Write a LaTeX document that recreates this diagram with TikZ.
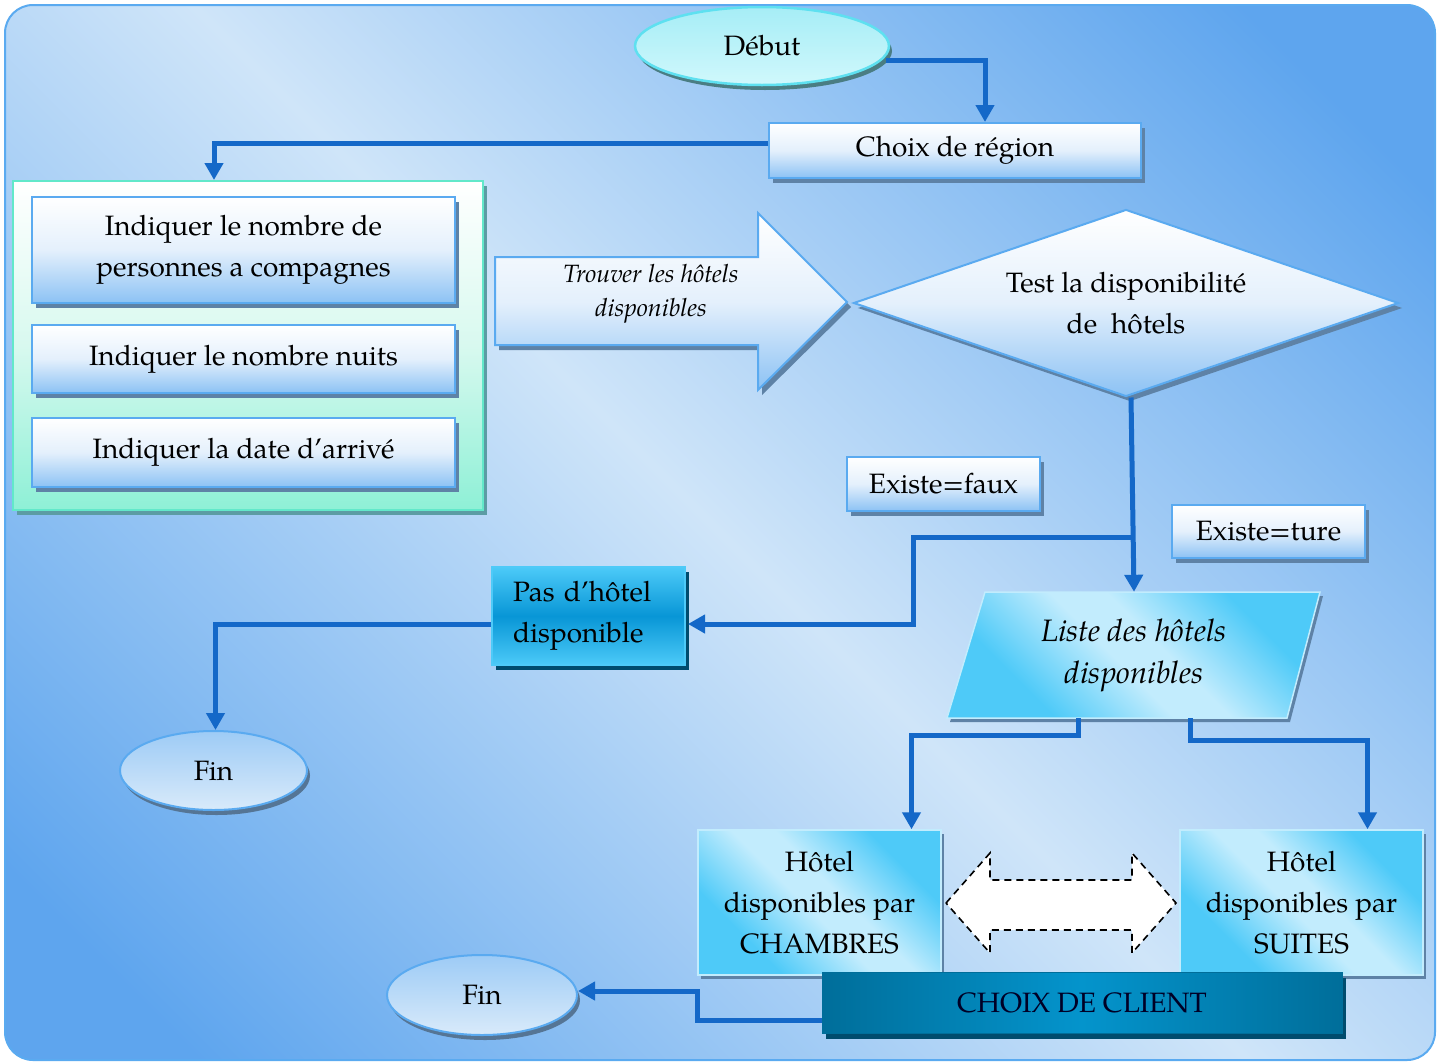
\documentclass[tikz,border=0pt]{standalone}
\usepackage{fontspec}
\setmainfont{TeX Gyre Pagella}
\usetikzlibrary{shapes.geometric,arrows.meta,calc,shadows}

% palette
\definecolor{bgL}{HTML}{CFE5F9}
\definecolor{bgD}{HTML}{5EA5EE}
\definecolor{edgeblue}{HTML}{5AAAF0}
\definecolor{boxlow}{HTML}{8CC2F4}
\definecolor{boxmid}{HTML}{E4F0FC}
\definecolor{shadowblue}{HTML}{5E82A6}
\definecolor{linkblue}{HTML}{1468C8}
\definecolor{cyD}{HTML}{4ECAF8}
\definecolor{cyL}{HTML}{C2ECFD}
\definecolor{mintedge}{HTML}{62E8CA}
\definecolor{mintlow}{HTML}{8EF0D6}
\definecolor{mintmid}{HTML}{D8F9EF}
\definecolor{mintshadow}{HTML}{5C9CA4}
\definecolor{deepcyan}{HTML}{0896D6}
\definecolor{brightcyan}{HTML}{4CCAF8}
\definecolor{deepshadow}{HTML}{004C6E}
\definecolor{tealdark}{HTML}{006E9A}
\definecolor{teallight}{HTML}{0494CC}
\definecolor{startedge}{HTML}{5EE0F0}
\definecolor{starttop}{HTML}{A6EDF6}
\definecolor{startlow}{HTML}{D0F8FC}

\pgfdeclarehorizontalshading{bgshade}{100bp}{color(0bp)=(bgD); color(20bp)=(bgD); color(50bp)=(bgL); color(80bp)=(bgD); color(100bp)=(bgD)}
\pgfdeclarehorizontalshading{cyshade}{100bp}{color(0bp)=(cyD); color(30bp)=(cyD); color(47bp)=(cyL); color(55bp)=(cyL); color(72bp)=(cyD); color(100bp)=(cyD)}

\newcommand\bigtxt{\fontsize{28}{41}\selectfont}
\newcommand\smalltxt{\fontsize{25}{34}\selectfont}
\newcommand\listtxt{\fontsize{31}{42}\selectfont}

\tikzset{
  link/.style={draw=linkblue, line width=5pt, -{Triangle[width=18pt,length=17pt]}},
  bluebox/.style={rectangle, draw=edgeblue, line width=2pt, top color=white,
    bottom color=boxlow, middle color=boxmid, inner sep=0pt, align=center,
    font=\bigtxt, general shadow={fill=shadowblue, shadow xshift=4pt, shadow yshift=-5pt}},
  cyanbox/.style={rectangle, draw=cyL, line width=1.5pt, shading=cyshade, shading angle=45,
    inner sep=0pt, align=center, font=\bigtxt,
    general shadow={fill=shadowblue, shadow xshift=3pt, shadow yshift=-4pt}},
  finoval/.style={ellipse, draw=edgeblue, line width=2pt, top color=boxlow!85!white,
    bottom color=bgL!80!white, inner sep=0pt, font=\bigtxt,
    general shadow={fill=shadowblue!90!black, shadow xshift=3pt, shadow yshift=-5pt}},
}

\begin{document}
\begin{tikzpicture}[x=1pt,y=-1pt]
\useasboundingbox (0,0) rectangle (1442,1063);
\fill[white] (0,0) rectangle (1442,1063);

% backdrop panel
\path[shading=bgshade, shading angle=45, rounded corners=28pt] (5,5) rectangle (1435,1060);
\draw[edgeblue, line width=2pt, rounded corners=28pt] (5,5) rectangle (1435,1060);

% start
\node[ellipse, minimum width=254pt, minimum height=78pt, inner sep=0pt, draw=startedge,
      line width=2.5pt, top color=starttop, bottom color=startlow, font=\bigtxt,
      general shadow={fill=mintshadow!80!black, shadow xshift=3pt, shadow yshift=-5pt}]
      (debut) at (762,46) {Début};

\node[bluebox, minimum width=372pt, minimum height=55pt] (region) at (955,150.5) {Choix de région};

% input group
\node[rectangle, draw=mintedge, line width=2pt, top color=white, bottom color=mintlow,
      middle color=mintmid, minimum width=470pt, minimum height=329pt,
      general shadow={fill=mintshadow, shadow xshift=4pt, shadow yshift=-5pt}]
      (group) at (248,345.5) {};
\node[bluebox, minimum width=423pt, minimum height=106pt] (pers) at (243.5,250)
      {Indiquer le nombre de\\personnes a compagnes};
\node[bluebox, minimum width=423pt, minimum height=68pt] (nuits) at (243.5,359)
      {Indiquer le nombre nuits};
\node[bluebox, minimum width=423pt, minimum height=69pt] (datearr) at (243.5,452.5)
      {Indiquer la date d’arrivé};

% search arrow
\path[draw=edgeblue, line width=2pt, top color=white, bottom color=boxlow, middle color=boxmid,
      general shadow={fill=shadowblue, shadow xshift=4pt, shadow yshift=-5pt}]
  (495,257) -- (758,257) -- (758,213) -- (847,302) -- (758,390) -- (758,345) -- (495,345) -- cycle;
\node[font=\smalltxt\itshape, align=center] (trouver) at (651,294) {Trouver les hôtels\\disponibles};

% availability test
\node[diamond, aspect=2.914, draw=edgeblue, line width=2pt, top color=white, bottom color=boxlow,
      middle color=boxmid, minimum width=545pt, minimum height=187pt, inner sep=0pt,
      align=center, font=\bigtxt,
      general shadow={fill=shadowblue, shadow xshift=4pt, shadow yshift=-5pt}]
      (test) at (1126,303) {Test la disponibilité\\de\ \ hôtels};

\node[bluebox, minimum width=193pt, minimum height=54pt] (faux) at (943.5,484) {Existe=faux};
\node[bluebox, minimum width=193pt, minimum height=53pt] (vrai) at (1268.5,531.5) {Existe=ture};

% no hotel
\node[rectangle, draw=cyD, line width=2pt, top color=brightcyan, bottom color=brightcyan,
      middle color=deepcyan, minimum width=193pt, minimum height=98pt, inner sep=0pt,
      text width=151pt, align=left, font=\bigtxt,
      general shadow={fill=deepshadow, shadow xshift=4pt, shadow yshift=-5pt}]
      (pas) at (588.5,616) {Pas d’hôtel\\disponible};

\node[finoval, minimum width=187pt, minimum height=79pt] (fin1) at (213.5,770.5) {Fin};

% list of hotels
\path[draw=cyL, line width=1.5pt, shading=cyshade, shading angle=45,
      general shadow={fill=shadowblue, shadow xshift=3pt, shadow yshift=-4pt}]
  (985,592) -- (1320,592) -- (1287,718) -- (947,718) -- cycle;
\node[minimum width=300pt, minimum height=126pt, inner sep=0pt, align=center,
      font=\listtxt\itshape] (liste) at (1134,655) {Liste des hôtels\\disponibles};

\node[cyanbox, minimum width=243pt, minimum height=145pt] (chambres) at (819.5,902.5)
      {Hôtel\\disponibles par\\CHAMBRES};
\node[cyanbox, minimum width=243pt, minimum height=145pt] (suites) at (1301.5,902.5)
      {Hôtel\\disponibles par\\SUITES};

% two-way exchange between the offers
\draw[fill=white, line width=1.6pt, dash pattern=on 7pt off 5pt]
  (946,903) -- (990,853) -- (990,880) -- (1132,880) -- (1132,853) -- (1176,903)
  -- (1132,953) -- (1132,930) -- (990,930) -- (990,953) -- cycle;

\node[rectangle, draw=tealdark, line width=1pt, left color=tealdark, right color=tealdark,
      middle color=teallight, minimum width=520pt, minimum height=61pt, inner sep=0pt,
      font=\bigtxt, text=black!85!blue,
      general shadow={fill=deepshadow, shadow xshift=4pt, shadow yshift=-5pt}]
      (client) at (1082,1003) {CHOIX DE CLIENT};

\node[finoval, minimum width=190pt, minimum height=80pt] (fin2) at (482,995) {Fin};

% connectors
\draw[link] ($(debut.center)+(124,14)$) -| ($(region.north)+(30,0)$);
\draw[link] ($(region.west)+(0,-7)$) -| ($(group.north)+(-34,0)$);
\coordinate (branch) at ($(test.south)+(6,140)$);
\draw[link] ($(test.south)+(5,0)$) -- (liste.north);
\draw[link] (branch) -| ($(pas.east)+(227,8)$) -- ($(pas.east)+(2,8)$);
\draw[link] ($(pas.west)+(0,8)$) -| ($(fin1.north)+(2,0)$);
\draw[link] ($(liste.south)+(-56,0)$) -- ++(0,17) -| ($(chambres.north)+(92,0)$);
\draw[link] ($(liste.south)+(56,0)$) -- ++(0,22) -| ($(suites.north)+(66,0)$);
\draw[link] ($(client.west)+(0,17)$) -- ++(-124,0) |- ($(fin2.east)+(0,-4)$);
\end{tikzpicture}
\end{document}
